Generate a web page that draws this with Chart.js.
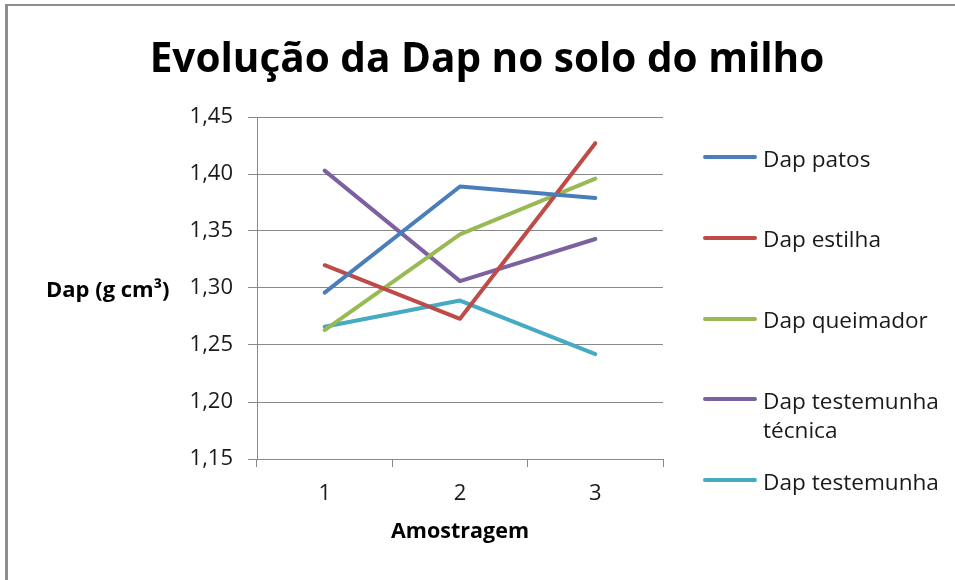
<!DOCTYPE html>
<html lang="pt">
<head>
<meta charset="utf-8">
<title>Evolução da Dap no solo do milho</title>
<script src="https://cdn.jsdelivr.net/npm/chart.js@4.4.1/dist/chart.umd.min.js"></script>
<style>
  html, body { margin: 0; padding: 0; background: #fff; }
  body { width: 955px; height: 580px; position: relative; overflow: hidden; font-family: "Open Sans", "Noto Sans", sans-serif; color: #1a1a1a; }
  #frame { position: absolute; left: 5px; top: 4px; right: -10px; bottom: -10px; border-top: 2px solid #8e8e8e; border-left: 3px solid #8e8e8e; }
  #chart { position: absolute; left: 0; top: 0; }
  #title { position: absolute; left: 487px; top: 36px; transform: translateX(-50%); white-space: nowrap; font-weight: 700; font-size: 40.5px; line-height: 41px; color: #000; }
  #ytitle { position: absolute; left: 46px; top: 277px; white-space: nowrap; font-weight: 700; font-size: 22px; line-height: 22px; color: #000; }
  #legend .item { position: absolute; left: 703px; }
  #legend .swatch { position: absolute; left: 0; top: 11.6px; width: 54px; height: 4px; border-radius: 2px; }
  #legend .label { position: absolute; left: 60px; top: 0; width: 188px; font-size: 22.6px; line-height: 29px; }
</style>
</head>
<body>
<div id="frame"></div>
<canvas id="chart" width="955" height="580"></canvas>
<div id="title">Evolução da Dap no solo do milho</div>
<div id="ytitle">Dap (g cm³)</div>
<div id="legend"></div>
<script>
// ─── dados ─────────────────────────────────────────────────────────────────
const amostras   = ['1', '2', '3'];
const dapPatos     = [1.296, 1.389, 1.379];
const dapEstilha   = [1.320, 1.273, 1.427];
const dapQueimador = [1.263, 1.347, 1.396];
const dapTecnica   = [1.403, 1.306, 1.343];
const dapTestemunha = [1.266, 1.289, 1.242];
const nomesSeries  = ['Dap patos', 'Dap estilha', 'Dap queimador', 'Dap testemunha técnica', 'Dap testemunha'];
const yTicks       = [1.15, 1.20, 1.25, 1.30, 1.35, 1.40, 1.45];

const CORES = ['#4a7ebb', '#be4b48', '#98b954', '#7d60a0', '#46aac5'];
const GRID  = '#888888';
const FONT  = '"Open Sans", "Noto Sans", sans-serif';

const valores = [dapPatos, dapEstilha, dapQueimador, dapTecnica, dapTestemunha];

const datasets = nomesSeries.map((nome, i) => ({
  label: nome,
  data: valores[i],
  borderColor: CORES[i],
  backgroundColor: CORES[i],
  borderWidth: 4,
  borderCapStyle: 'round',
  borderJoinStyle: 'round',
  pointRadius: 0,
  pointHoverRadius: 0,
  tension: 0,
  fill: false,
}));

new Chart(document.getElementById('chart'), {
  type: 'line',
  data: { labels: amostras, datasets },
  options: {
    responsive: false,
    animation: false,
    layout: { padding: { left: 0, right: 292, top: 117, bottom: 0 } },
    plugins: {
      legend: { display: false },
      title: { display: false },
      tooltip: { enabled: false },
    },
    scales: {
      x: {
        type: 'category',
        offset: true,
        afterFit: s => { s.height = 121; },
        grid: { offset: true, drawOnChartArea: false, drawTicks: true, tickLength: 8, color: GRID, lineWidth: 1 },
        border: { display: true, color: GRID, width: 1 },
        ticks: { color: '#1a1a1a', font: { family: FONT, size: 22 }, padding: 14, maxRotation: 0 },
        title: { display: true, text: 'Amostragem', color: '#000', font: { family: FONT, size: 21.5, weight: 'bold' }, padding: { top: 0, bottom: 35 } },
      },
      y: {
        min: yTicks[0],
        max: yTicks[yTicks.length - 1],
        afterFit: s => { s.width = 257; },
        afterBuildTicks: s => { s.ticks = yTicks.map(v => ({ value: v })); },
        grid: { color: GRID, lineWidth: 1, tickLength: 9, drawTicks: true },
        border: { display: true, color: GRID, width: 1 },
        ticks: {
          color: '#1a1a1a',
          font: { family: FONT, size: 22 },
          padding: 15,
          callback: v => Number(v).toFixed(2).replace('.', ','),
        },
      },
    },
  },
});

// ─── legenda em HTML (permite quebra de linha como no original) ────────────
const legend = document.getElementById('legend');
nomesSeries.forEach((nome, i) => {
  const item = document.createElement('div');
  item.className = 'item';
  item.style.top = (157.3 + i * 80.7 - 13.6) + 'px';
  const sw = document.createElement('div');
  sw.className = 'swatch';
  sw.style.background = CORES[i];
  const lb = document.createElement('div');
  lb.className = 'label';
  lb.textContent = nome;
  item.appendChild(sw);
  item.appendChild(lb);
  legend.appendChild(item);
});
</script>
</body>
</html>
